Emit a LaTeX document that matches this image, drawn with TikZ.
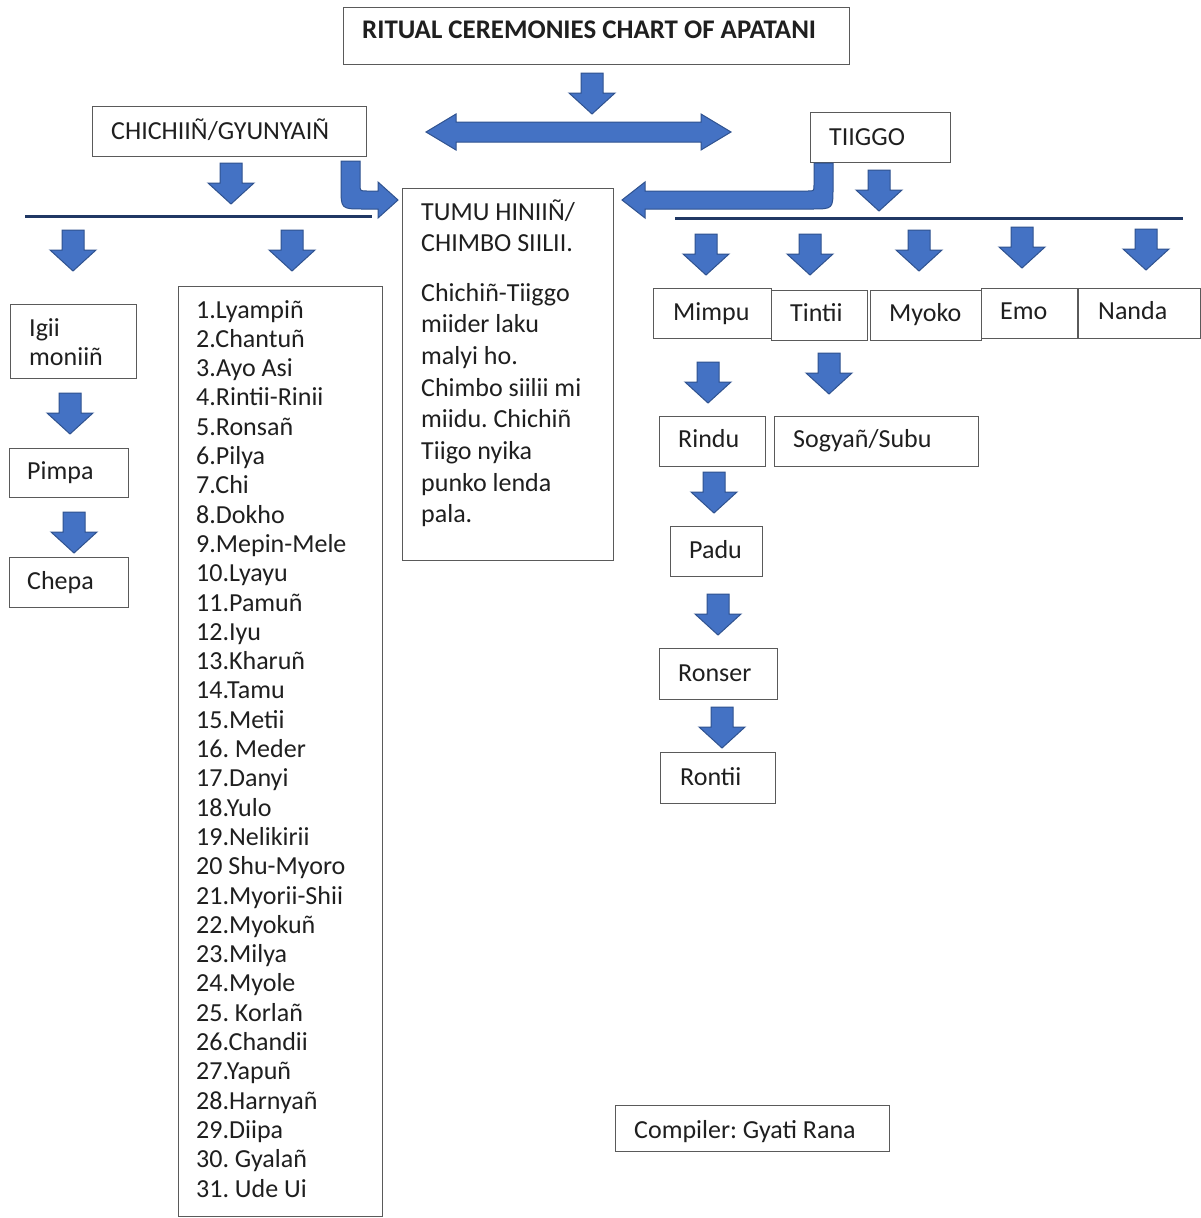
\documentclass[tikz,border=0pt]{standalone}
\usepackage{fontspec}
\setmainfont{Carlito}
\definecolor{arrowblue}{HTML}{4472C4}
\definecolor{arrowedge}{HTML}{2F528F}
\definecolor{navyline}{HTML}{203864}
\definecolor{boxgray}{HTML}{5A5A5A}
\newcommand{\bx}[5]{\node[box,anchor=north west,minimum width={#4-#2},minimum height={#5-#3}] (#1) at (#2,#3) {};}
\frenchspacing
\begin{document}
\frenchspacing
\begin{tikzpicture}[x=1pt,y=-1pt,
  box/.style={draw=boxgray,line width=1.3pt,fill=white,inner sep=0pt},
  txt/.style={inner sep=0pt,anchor=base west,text=black!88,font=\fontsize{26}{31.7}\selectfont},
  blk/.style={fill=arrowblue,draw=arrowedge,line width=1pt,line join=miter},
  rulel/.style={draw=navyline,line width=3pt},
  pics/darr/.style={code={\draw[blk] (-11,0) -- (11,0) -- (11,20) -- (23,20) -- (0,41) -- (-23,20) -- (-11,20) -- cycle;}}]
\useasboundingbox (0,0) rectangle (1200,1218);
\fill[white] (0,0) rectangle (1200,1218);
% boxes
\bx{title}{343}{7}{849}{64}
\bx{chichi}{92}{106}{366}{156}
\bx{tiiggo}{810}{112}{950}{162}
\bx{tumu}{402}{188}{613}{560}
\bx{igii}{10}{304}{136}{378}
\bx{pimpa}{9}{448}{128}{497}
\bx{chepa}{9}{557}{128}{607}
\bx{list}{178}{286}{382}{1216}
\bx{mimpu}{653}{288}{771}{338}
\bx{tintii}{771}{290}{867}{340}
\bx{myoko}{870}{290}{981}{340}
\bx{emo}{981}{288}{1077}{338}
\bx{nanda}{1078}{288}{1200}{338}
\bx{rindu}{659}{416}{765}{466}
\bx{sogyan}{774}{416}{978}{466}
\bx{padu}{670}{526}{762}{576}
\bx{ronser}{659}{648}{777}{699}
\bx{rontii}{660}{752}{775}{803}
\bx{compiler}{615}{1105}{889}{1151}
% texts
\node[txt,font=\fontsize{26.9}{32}\selectfont\bfseries] (t-title) at (362,38) {RITUAL CEREMONIES CHART OF APATANI};
\node[txt] (t-chichi) at (111,139) {CHICHIIÑ/GYUNYAIÑ};
\node[txt] (t-tiiggo) at (829,145) {TIIGGO};
\node[txt] (t-tumu1) at (421,220) {TUMU HINIIÑ/};
\node[txt] (t-tumu2) at (421,251) {CHIMBO SIILII.};
\foreach \s [count=\i] in {Chichiñ-Tiiggo,miider laku,malyi ho.,Chimbo siilii mi,miidu. Chichiñ,Tiigo nyika,punko lenda,pala.}
  {\node[txt] (t-tumub\i) at (421,{301+(\i-1)*31.7}) {\s};}
\node[txt] (t-igii1) at (29,336) {Igii};
\node[txt] (t-igii2) at (29,365) {moniiñ};
\node[txt] (t-pimpa) at (27,479) {Pimpa};
\node[txt] (t-chepa) at (27,589) {Chepa};
\foreach \s [count=\i] in {1.Lyampiñ,2.Chantuñ,3.Ayo Asi,4.Rintii-Rinii,5.Ronsañ,6.Pilya,7.Chi,8.Dokho,9.Mepin-Mele,10.Lyayu,11.Pamuñ,12.Iyu,13.Kharuñ,14.Tamu,15.Metii,16. Meder,17.Danyi,18.Yulo,19.Nelikirii,20 Shu-Myoro,21.Myorii-Shii,22.Myokuñ,23.Milya,24.Myole,25. Korlañ,26.Chandii,27.Yapuñ,28.Harnyañ,29.Diipa,30. Gyalañ,31. Ude Ui}
  {\node[txt] (t-list\i) at (196,{318+(\i-1)*29.3}) {\s};}
\node[txt] (t-mimpu) at (673,320) {Mimpu};
\node[txt] (t-tintii) at (790,321) {Tintii};
\node[txt] (t-myoko) at (889,321) {Myoko};
\node[txt] (t-emo) at (1000,319) {Emo};
\node[txt] (t-nanda) at (1098,319) {Nanda};
\node[txt] (t-rindu) at (678,447) {Rindu};
\node[txt] (t-sogyan) at (793,447) {Sogyañ/Subu};
\node[txt] (t-padu) at (689,558) {Padu};
\node[txt] (t-ronser) at (678,681) {Ronser};
\node[txt] (t-rontii) at (680,785) {Rontii};
\node[txt] (t-compiler) at (634,1138) {Compiler: Gyati Rana};
% rules
\draw[rulel] (25,216) -- (372,216);
\draw[rulel] (675,218) -- (1183,218);
% down arrows
\pic at (592,73) {darr};
\pic at (231,163) {darr};
\pic at (73,230) {darr};
\pic at (292,230) {darr};
\pic at (879,170) {darr};
\pic at (706,234) {darr};
\pic at (810,234) {darr};
\pic at (919,230) {darr};
\pic at (1022,227) {darr};
\pic at (1146,229) {darr};
\pic at (708,362) {darr};
\pic at (829,353) {darr};
\pic at (714,472) {darr};
\pic at (718,594) {darr};
\pic at (722,707) {darr};
\pic at (70,393) {darr};
\pic at (74,512) {darr};
% double arrow
\draw[blk] (426,132) -- (456,114) -- (456,122) -- (701,122) -- (701,114) -- (731,132) -- (701,150) -- (701,142) -- (456,142) -- (456,150) -- cycle;
% bent arrows
\draw[blk] (341,161) -- (360,161) -- (360,184) .. controls (360,191) .. (367,191) -- (378,191) -- (378,182) -- (398,200) -- (378,218) -- (378,209) -- (363,209) .. controls (341,209) .. (341,187) -- cycle;
\draw[blk] (814,163) -- (833,163) -- (833,188) .. controls (833,209) .. (812,209) -- (645,209) -- (645,218) -- (622,200) -- (645,182) -- (645,191) -- (808,191) .. controls (814,191) .. (814,185) -- cycle;
\end{tikzpicture}
\end{document}
